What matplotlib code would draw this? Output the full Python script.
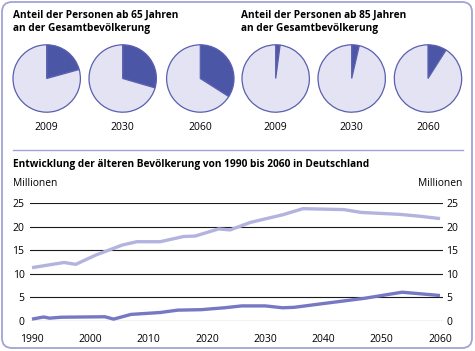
import matplotlib
matplotlib.use("Agg")
import matplotlib.pyplot as plt
from matplotlib.patches import FancyBboxPatch

plt.rcParams['font.family'] = ['Open Sans', 'DejaVu Sans']

# Pie data: share of population (percent)
pie_years = ['2009', '2030', '2060']
share_65 = [20.7, 29.5, 34.0]
share_85 = [2.1, 3.6, 9.0]

# Line data (million people)
years_65 = [1990, 1992, 1995.5, 1997.5, 2001, 2005.5, 2008, 2012, 2016, 2018,
            2022, 2024, 2027.5, 2033, 2036.5, 2043.5, 2046.5, 2053, 2056.5, 2060]
pop_65 = [11.3, 11.7, 12.4, 12.0, 14.0, 16.1, 16.8, 16.8, 17.9, 18.0,
          19.5, 19.3, 20.9, 22.5, 23.8, 23.6, 23.0, 22.6, 22.2, 21.7]
years_85 = [1990, 1992, 1993, 1995, 2002.5, 2004, 2007, 2012, 2015, 2019,
            2023, 2026, 2030, 2033, 2035, 2040, 2047, 2053.5, 2060]
pop_85 = [0.4, 0.85, 0.6, 0.8, 0.9, 0.4, 1.4, 1.8, 2.3, 2.4,
          2.8, 3.2, 3.2, 2.8, 2.9, 3.7, 4.8, 6.1, 5.4]
x_ticks = [1990, 2000, 2010, 2020, 2030, 2040, 2050, 2060]
y_ticks = [0, 5, 10, 15, 20, 25]

DARK = '#4b57a6'
LIGHT = '#e3e3f4'
EDGE = '#5a5fae'
FRAME = '#a3a3d4'
C65 = '#b3b3e0'
C85 = '#7678c4'

W, H = 475, 351
fig = plt.figure(figsize=(W / 100, H / 100), dpi=100)

# background layer in pixel coordinates
bg = fig.add_axes([0, 0, 1, 1], zorder=-1)
bg.set_xlim(0, W)
bg.set_ylim(H, 0)
bg.axis('off')
bg.add_patch(FancyBboxPatch((2, 2), 470, 346, boxstyle="round,pad=0,rounding_size=10",
                            facecolor='white', edgecolor=FRAME, linewidth=1.3))
bg.plot([13, 463], [150, 150], color=FRAME, linewidth=1)

# titles
TS = 7.3
bg.text(13, 15, 'Anteil der Personen ab 65 Jahren', fontsize=TS, fontweight='bold', va='center')
bg.text(13, 29, 'an der Gesamtbevölkerung', fontsize=TS, fontweight='bold', va='center')
bg.text(241, 15, 'Anteil der Personen ab 85 Jahren', fontsize=TS, fontweight='bold', va='center')
bg.text(241, 29, 'an der Gesamtbevölkerung', fontsize=TS, fontweight='bold', va='center')
bg.text(13, 164, 'Entwicklung der älteren Bevölkerung von 1990 bis 2060 in Deutschland',
        fontsize=TS, fontweight='bold', va='center')
bg.text(13, 183, 'Millionen', fontsize=7.4, va='center')
bg.text(462, 183, 'Millionen', fontsize=7.4, va='center', ha='right')

# pies
r = 33.7
centers = [46.7, 122.7, 200.3, 275.7, 351.7, 428.0]
shares = share_65 + share_85
labels = pie_years + pie_years
for cx, s, lab in zip(centers, shares, labels):
    cy = 78.5
    pax = fig.add_axes([(cx - r - 1) / W, (H - cy - r - 1) / H, (2 * r + 2) / W, (2 * r + 2) / H])
    pax.pie([s, 100 - s], colors=[DARK, LIGHT], startangle=90, counterclock=False,
            wedgeprops=dict(edgecolor=EDGE, linewidth=0.9))
    pax.set_xlim(-1 - 1 / r, 1 + 1 / r)
    pax.set_ylim(-1 - 1 / r, 1 + 1 / r)
    pax.set_aspect('auto')
    bg.text(cx, 127, lab, fontsize=7.5, ha='center', va='center')

# line chart
x0, x1 = 30, 443
px_per_year = (440 - 32) / 70
xl = 1990 - (32 - x0) / px_per_year
xr = 2060 + (x1 - 440) / px_per_year
ax = fig.add_axes([x0 / W, (H - 321) / H, (x1 - x0) / W, (321 - 203) / H])
ax.set_xlim(xl, xr)
ax.set_ylim(0, 25)
for yv in y_ticks:
    ax.axhline(yv, color='#1a1a1a', linewidth=0.8, zorder=1)
ax.plot(years_65, pop_65, color=C65, linewidth=2.4, solid_capstyle='butt', zorder=3, clip_on=False)
ax.plot(years_85, pop_85, color=C85, linewidth=2.4, solid_capstyle='butt', zorder=3, clip_on=False)
for sp in ax.spines.values():
    sp.set_visible(False)
ax.set_xticks(x_ticks)
ax.set_yticks(y_ticks)
ax.tick_params(length=0, labelsize=7.5, pad=9)
ax.tick_params(axis='y', pad=4)
ax.patch.set_alpha(0)

ax2 = ax.twinx()
ax2.set_ylim(0, 25)
ax2.set_yticks(y_ticks)
ax2.tick_params(length=0, labelsize=7.5, pad=2.5)
for sp in ax2.spines.values():
    sp.set_visible(False)

fig.savefig('out.png', dpi=100)
